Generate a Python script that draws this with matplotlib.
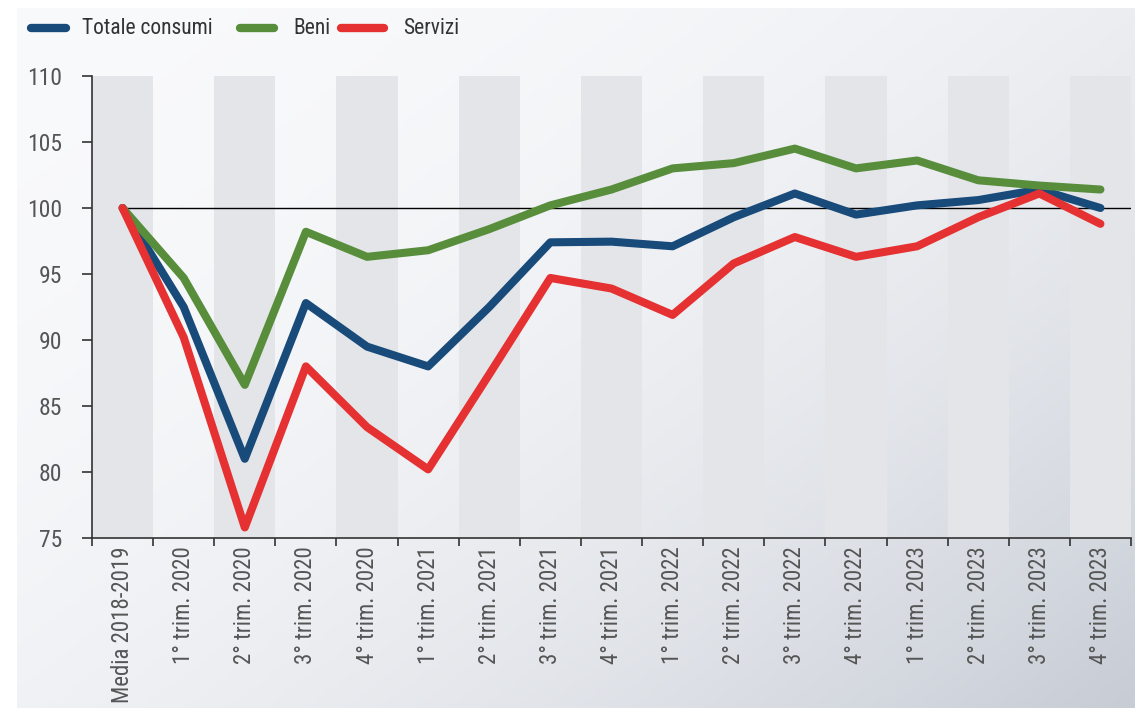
import numpy as np
import matplotlib.pyplot as plt
from matplotlib.lines import Line2D

plt.rcParams['font.family'] = ['Roboto Condensed', 'Liberation Sans Narrow', 'DejaVu Sans']

categorie = ['Media 2018-2019',
             '1° trim. 2020', '2° trim. 2020', '3° trim. 2020', '4° trim. 2020',
             '1° trim. 2021', '2° trim. 2021', '3° trim. 2021', '4° trim. 2021',
             '1° trim. 2022', '2° trim. 2022', '3° trim. 2022', '4° trim. 2022',
             '1° trim. 2023', '2° trim. 2023', '3° trim. 2023', '4° trim. 2023']

totale = [100, 92.5, 81.0, 92.8, 89.5, 88.0, 92.5, 97.4, 97.45, 97.1,
          99.3, 101.1, 99.5, 100.2, 100.6, 101.4, 100.0]
beni = [100, 94.7, 86.6, 98.2, 96.3, 96.8, 98.4, 100.2, 101.4, 103.0,
        103.4, 104.5, 103.0, 103.6, 102.1, 101.7, 101.4]
servizi = [100, 90.2, 75.8, 88.0, 83.4, 80.2, 87.4, 94.7, 93.9, 91.9,
           95.8, 97.8, 96.3, 97.1, 99.3, 101.1, 98.8]

serie = [('Totale consumi', totale, '#184a7a'),
         ('Beni', beni, '#578d3b'),
         ('Servizi', servizi, '#e53131')]

W, H = 1135, 708
fig = plt.figure(figsize=(W / 100, H / 100), dpi=100)

# sfondo sfumato
bg = fig.add_axes([17 / W, 0, 1 - 17 / W, 1 - 8 / H], zorder=-10)
xx, yy = np.meshgrid(np.linspace(0, 1, 300), np.linspace(0, 1, 200))
t = np.clip(0.55 * xx + 0.45 * yy, 0, 1) ** 2.2
c0 = np.array([0.975, 0.978, 0.985])
c1 = np.array([0.78, 0.80, 0.835])
img = c0 + (c1 - c0) * t[..., None]
bg.imshow(img, aspect='auto', extent=[0, 1, 0, 1], origin='upper')
bg.axis('off')

ax = fig.add_axes([92 / W, 1 - 538 / H, (1131 - 92) / W, (538 - 76) / H])
ax.patch.set_alpha(0)

n = len(categorie)
x = np.arange(n)
for i in range(0, n, 2):
    ax.axvspan(i - 0.5, i + 0.5, color='#e4e5e9', lw=0, zorder=0)

ax.plot([0, n - 0.5], [100, 100], color='black', lw=1, zorder=1)

for nome, val, col in serie:
    ax.plot(x, val, color=col, lw=5.8, solid_joinstyle='round',
            solid_capstyle='round', zorder=3)

ax.set_xlim(-0.5, n - 0.5)
ax.set_ylim(75, 110)
ax.set_yticks(range(75, 111, 5))
ax.tick_params(axis='y', length=7.5, width=1.2, color='#333333', labelsize=17,
               labelcolor='#555555', pad=14)
ax.set_xticks(np.arange(n + 1) - 0.5)
ax.set_xticklabels([])
ax.set_xticks(x, minor=True)
ax.set_xticklabels(categorie, minor=True, rotation=90, fontsize=16.5, color='#555555')
ax.tick_params(axis='x', which='major', length=6, width=1.2, color='#333333')
ax.tick_params(axis='x', which='minor', length=0, pad=6)

for s in ['top', 'right']:
    ax.spines[s].set_visible(False)
for s in ['left', 'bottom']:
    ax.spines[s].set_color('#333333')
    ax.spines[s].set_linewidth(1.2)

# legenda
leg_y = 1 - 28 / H
leg_pos = [(31, 66, 82), (240, 274, 293), (341, 384, 403)]
for (nome, _, col), (x0, x1, xt) in zip(serie, leg_pos):
    fig.add_artist(Line2D([x0 / W, x1 / W], [leg_y, leg_y], color=col, lw=6,
                          solid_capstyle='round', transform=fig.transFigure))
    fig.text(xt / W, leg_y, nome, fontsize=15.5, color='#333333', va='center', ha='left')

fig.savefig('out.png', dpi=100)
